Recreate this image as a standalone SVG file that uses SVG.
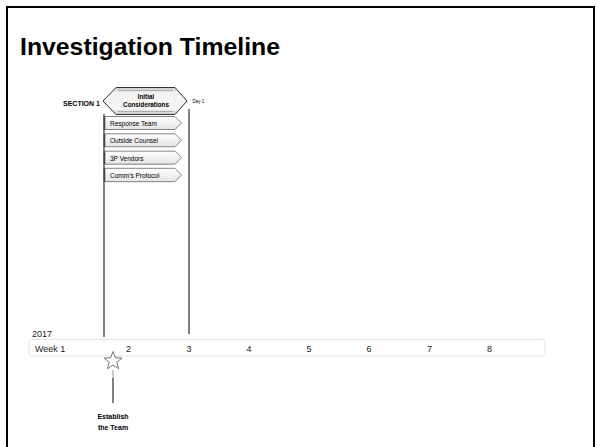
<svg xmlns="http://www.w3.org/2000/svg" width="596" height="447" viewBox="0 0 596 447">
<defs>
<linearGradient id="gArrow" x1="0" y1="0" x2="0" y2="1">
<stop offset="0" stop-color="#c8c8c8"/>
<stop offset="0.2" stop-color="#f4f4f4"/>
<stop offset="0.8" stop-color="#f4f4f4"/>
<stop offset="1" stop-color="#c8c8c8"/>
</linearGradient>
<linearGradient id="gChev" x1="0" y1="0" x2="0" y2="1">
<stop offset="0" stop-color="#ffffff"/>
<stop offset="1" stop-color="#e4e4e4"/>
</linearGradient>
<style>
.t{font-family:"Liberation Sans",Arial,sans-serif;fill:#000}
.b{font-weight:bold}
.chev{fill:url(#gChev);stroke:#666;stroke-width:0.8}
.edge{stroke:#444;stroke-width:1.6}
.ln{stroke:#000;stroke-width:1;fill:none}
.wk{font-family:"Liberation Sans",Arial,sans-serif;font-size:9px;fill:#222}
</style>
</defs>
<rect x="0" y="0" width="596" height="447" fill="#fff"/>
<rect x="7" y="7" width="587" height="470" fill="none" stroke="#000" stroke-width="2"/>
<text class="t b" x="20" y="55" font-size="24.8">Investigation Timeline</text>

<g id="connectors">
<line class="ln" x1="104" y1="114" x2="104" y2="337"/>
<line class="ln" x1="189" y1="109" x2="189" y2="334"/>
<line x1="113" y1="370" x2="113" y2="378" stroke="#999" stroke-width="1"/>
<line class="ln" x1="113" y1="378" x2="113" y2="403"/>
</g>

<g id="section-label">
<text class="t b" x="63" y="105.5" font-size="7">SECTION 1</text>
</g>

<g id="initial-considerations">
<polygon points="103,101 116,87.5 175,87.5 187,101 175,114.5 116,114.5" fill="url(#gArrow)" stroke="#333" stroke-width="1"/>
<polyline points="118,90.5 173,90.5" stroke="#888" stroke-width="0.6" fill="none"/>
<polyline points="118,111.5 173,111.5" stroke="#888" stroke-width="0.6" fill="none"/>
<text class="t b" x="146" y="99" font-size="6.3" text-anchor="middle">Initial</text>
<text class="t b" x="146" y="107.3" font-size="6.3" text-anchor="middle">Considerations</text>
</g>

<g id="day1">
<text class="t" x="192.5" y="103" font-size="4.5">Day 1</text>
</g>

<g id="response-team">
<polygon class="chev" points="104,116.5 175,116.5 181.5,123 175,129.5 104,129.5"/>
<line class="edge" x1="104.5" y1="116.5" x2="104.5" y2="129.5"/>
<text class="t" x="110" y="126" font-size="6.5" fill="#222">Response Team</text>
</g>
<g id="outside-counsel">
<polygon class="chev" points="104,133.8 175,133.8 181.5,140.3 175,146.8 104,146.8"/>
<line class="edge" x1="104.5" y1="133.8" x2="104.5" y2="146.8"/>
<text class="t" x="110" y="143.3" font-size="6.5">Outside Counsel</text>
</g>
<g id="3p-vendors">
<polygon class="chev" points="104,151.2 175,151.2 181.5,157.7 175,164.2 104,164.2"/>
<line class="edge" x1="104.5" y1="151.2" x2="104.5" y2="164.2"/>
<text class="t" x="110" y="160.7" font-size="6.5">3P Vendors</text>
</g>
<g id="comms-protocol">
<polygon class="chev" points="104,168.3 175,168.3 181.5,175 175,181.7 104,181.7"/>
<line class="edge" x1="104.5" y1="168.3" x2="104.5" y2="181.7"/>
<text class="t" x="110" y="178" font-size="6.5">Comm’s Protocol</text>
</g>

<g id="axis">
<text class="wk" x="32" y="337">2017</text>
<rect x="29" y="339.5" width="516" height="16.5" rx="2.5" fill="#fff" stroke="#e4e4e4" stroke-width="1"/>
<text class="wk" x="35" y="352">Week 1</text>
<text class="wk" x="126" y="352">2</text>
<text class="wk" x="186.5" y="352">3</text>
<text class="wk" x="246.5" y="352">4</text>
<text class="wk" x="306.5" y="352">5</text>
<text class="wk" x="366.5" y="352">6</text>
<text class="wk" x="427" y="352">7</text>
<text class="wk" x="487" y="352">8</text>
</g>

<g id="establish-team">
<polygon points="113,351.5 115.35,357.76 122.03,358.06 116.8,362.24 118.58,368.69 113,365 107.42,368.69 109.2,362.24 103.97,358.06 110.65,357.76" fill="#fff" stroke="#666" stroke-width="0.9" stroke-linejoin="round"/>
<text class="t b" x="113" y="419" font-size="7" text-anchor="middle">Establish</text>
<text class="t b" x="113" y="430" font-size="7" text-anchor="middle">the Team</text>
</g>
</svg>
